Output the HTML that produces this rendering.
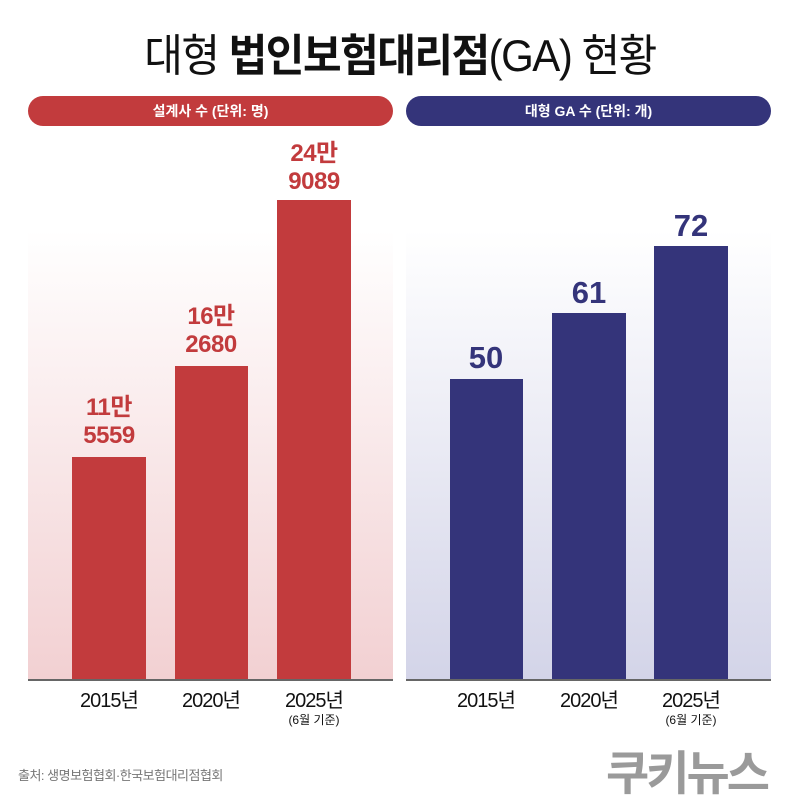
<!DOCTYPE html>
<html><head><meta charset="utf-8"><style>
body{margin:0;width:800px;height:800px;background:#fff;position:relative;overflow:hidden;font-family:"Liberation Sans","Noto Sans CJK KR",sans-serif;}
.a{position:absolute}
.title{left:0;width:800px;top:22px;text-align:center;font-size:42px;color:#111;letter-spacing:-1.5px;transform:scaleY(1.05)}
.pill{top:96px;height:30px;border-radius:15px;color:#fff;font-size:14px;font-weight:bold;text-align:center;line-height:30px}
.bar{position:absolute}
.yr{top:684px;width:110px;text-align:center;font-size:20px;color:#111;letter-spacing:-1px}
.sub{top:711px;width:110px;text-align:center;font-size:12px;color:#111}
.rv{width:110px;text-align:center;font-size:24px;font-weight:bold;color:#c23b3d;line-height:28px;letter-spacing:-0.5px}
.bv{width:110px;text-align:center;font-size:31px;font-weight:bold;color:#34347a}
</style></head><body>
<div class="a title">대형 <b>법인보험대리점</b>(GA) 현황</div>
<div class="a pill" style="left:28px;width:365px;background:#c23b3d">설계사 수 (단위: 명)</div>
<div class="a pill" style="left:406px;width:365px;background:#34347a">대형 GA 수 (단위: 개)</div>
<div class="a" style="left:28px;top:230px;width:365px;height:450px;background:linear-gradient(#fff,#f2d0d2)"></div>
<div class="a" style="left:406px;top:230px;width:365px;height:450px;background:linear-gradient(#fff,#d3d4e8)"></div>
<div class="bar" style="left:72px;top:457px;width:74px;height:223px;background:#c23b3d"></div>
<div class="bar" style="left:175px;top:366px;width:73px;height:314px;background:#c23b3d"></div>
<div class="bar" style="left:277px;top:200px;width:74px;height:480px;background:#c23b3d"></div>
<div class="bar" style="left:450px;top:379px;width:73px;height:301px;background:#34347a"></div>
<div class="bar" style="left:552px;top:313px;width:74px;height:367px;background:#34347a"></div>
<div class="bar" style="left:654px;top:246px;width:74px;height:434px;background:#34347a"></div>
<div class="a" style="left:28px;top:679px;width:365px;height:2px;background:#666"></div>
<div class="a" style="left:406px;top:679px;width:365px;height:2px;background:#666"></div>
<div class="a rv" style="left:54px;top:394px">11만<br>5559</div>
<div class="a rv" style="left:156px;top:303px">16만<br>2680</div>
<div class="a rv" style="left:259px;top:140px">24만<br>9089</div>
<div class="a bv" style="left:431px;top:340px">50</div>
<div class="a bv" style="left:534px;top:275px">61</div>
<div class="a bv" style="left:636px;top:208px">72</div>
<div class="a yr" style="left:54px">2015년</div>
<div class="a yr" style="left:156px">2020년</div>
<div class="a yr" style="left:259px">2025년</div>
<div class="a sub" style="left:259px">(6월 기준)</div>
<div class="a yr" style="left:431px">2015년</div>
<div class="a yr" style="left:534px">2020년</div>
<div class="a yr" style="left:636px">2025년</div>
<div class="a sub" style="left:636px">(6월 기준)</div>
<div class="a" style="left:18px;top:765px;font-size:13px;color:#777;letter-spacing:-0.5px">출처: 생명보험협회·한국보험대리점협회</div>
<div class="a" style="left:606px;top:735px;font-size:47px;font-weight:bold;color:#9a9a9a;letter-spacing:-3px">쿠키뉴스</div>
</body></html>
